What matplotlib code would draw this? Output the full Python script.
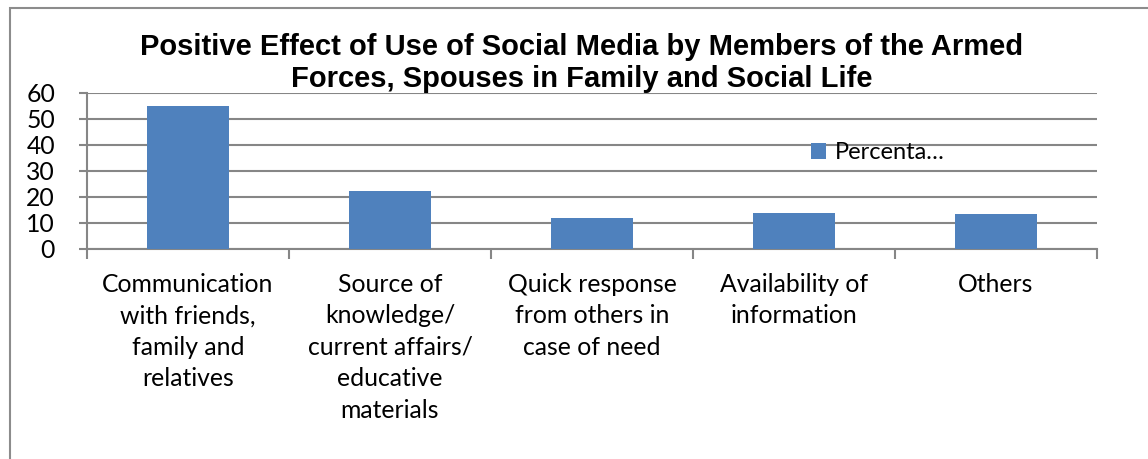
import matplotlib
matplotlib.use("Agg")
import matplotlib.pyplot as plt
from matplotlib.patches import Rectangle
import numpy as np

categories = [
    "Communication\nwith friends,\nfamily and\nrelatives",
    "Source of\nknowledge/\ncurrent affairs/\neducative\nmaterials",
    "Quick response\nfrom others in\ncase of need",
    "Availability of\ninformation",
    "Others",
]
values = [55.0, 22.4, 12.1, 13.8, 13.5]
series_name = "Percenta…"
yticks = [0, 10, 20, 30, 40, 50, 60]
title = ("Positive Effect of Use of Social Media by Members of the Armed\n"
         "Forces, Spouses in Family and Social Life")

W, H = 1148, 459
fig = plt.figure(figsize=(W / 100, H / 100), dpi=100)
fig.patch.set_facecolor("white")

# chart frame (open on the right and bottom)
fig.add_artist(Rectangle((9.5 / W, -0.05), 1.2, (H - 7.5) / H + 0.05,
                         transform=fig.transFigure, fill=False,
                         edgecolor="#8c8c8c", linewidth=1.5))

ax = fig.add_axes([87 / W, (H - 249) / H, (1097 - 87) / W, (249 - 93) / H])
grid_col = "#868686"
label_font = "Lato"
label_size = 17.8

x = np.arange(len(categories))
ax.bar(x, values, width=0.41, color="#4F81BD", label=series_name, zorder=3)
ax.set_xlim(-0.5, len(categories) - 0.5)
ax.set_ylim(0, 60)

ax.set_yticks(yticks)
ax.set_yticklabels([str(v) for v in yticks], fontsize=label_size,
                   family=label_font)
ax.yaxis.grid(True, color=grid_col, linewidth=1.5, zorder=0)
ax.tick_params(axis="y", length=6, width=1.5, color=grid_col, pad=17)
for lbl in ax.get_yticklabels():
    lbl.set_horizontalalignment("right")

# category boundaries as ticks, labels centred under the bars
ax.set_xticks(np.arange(len(categories) + 1) - 0.5)
ax.set_xticklabels([])
ax.set_xticks(x, minor=True)
ax.set_xticklabels(categories, minor=True, fontsize=label_size,
                   family=label_font, linespacing=1.45, va="top")
ax.tick_params(axis="x", which="major", length=7, width=1.5, color=grid_col)
ax.tick_params(axis="x", which="minor", length=0, pad=17)

for side in ["top", "right"]:
    ax.spines[side].set_visible(False)
for side in ["left", "bottom"]:
    ax.spines[side].set_color(grid_col)
    ax.spines[side].set_linewidth(1.5)

fig.text(582 / W, 1 - 63 / H, title, ha="center", va="center",
         fontsize=21, fontweight="bold", family="Liberation Sans",
         linespacing=1.2)

ax.legend(loc="center left", bbox_to_anchor=(811 / W, 1 - 153 / H),
          bbox_transform=fig.transFigure, frameon=False,
          prop={"family": label_font, "size": 17},
          handlelength=0.65, handleheight=0.65, handletextpad=0.35,
          borderpad=0, borderaxespad=0)

fig.savefig("out.png", dpi=100, facecolor="white")
